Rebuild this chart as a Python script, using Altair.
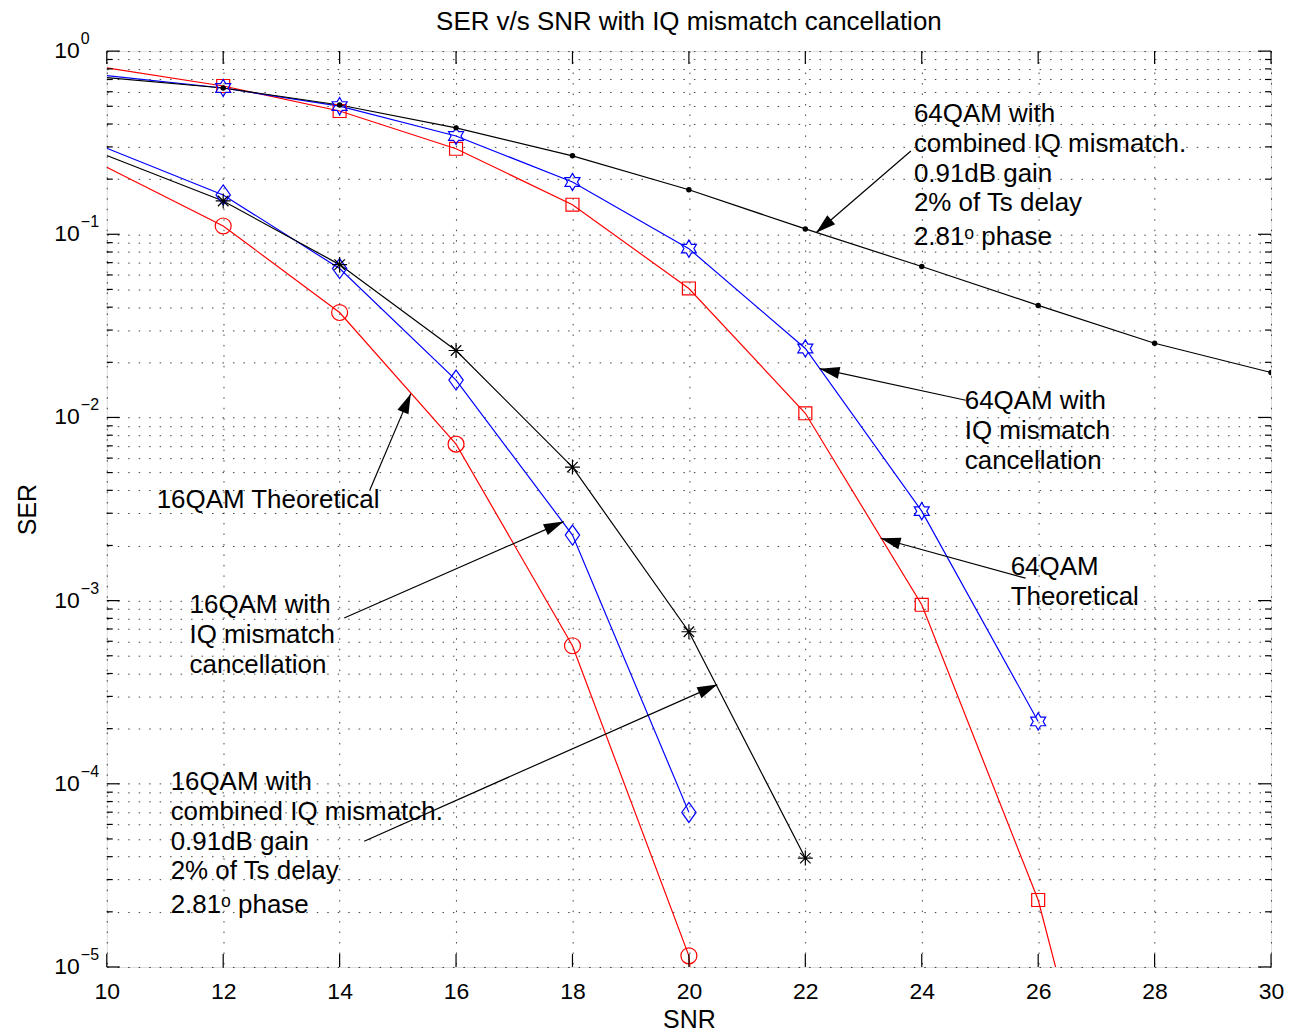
import math
import altair as alt
import pandas as pd

# ---------------- data ----------------
snr_16_theory = [10, 12, 14, 16, 18, 20, 22]
ser_16_theory = [0.232, 0.111, 0.0374, 0.00715, 5.67e-4, 1.15e-5, 2e-12]

snr_16_cancel = [10, 12, 14, 16, 18, 20]
ser_16_cancel = [0.295, 0.164, 0.065, 0.0160, 2.28e-3, 6.98e-5]

snr_16_comb = [10, 12, 14, 16, 18, 20, 22]
ser_16_comb = [0.269, 0.152, 0.0683, 0.0232, 5.36e-3, 6.76e-4, 3.93e-5]

snr_64_theory = [10, 12, 14, 16, 18, 20, 22, 24, 26, 28]
ser_64_theory = [0.810, 0.645, 0.471, 0.293, 0.145, 0.0506, 0.01054, 9.49e-4, 2.32e-5, 8.3e-8]

snr_64_cancel = [10, 12, 14, 16, 18, 20, 22, 24, 26]
ser_64_cancel = [0.734, 0.629, 0.501, 0.344, 0.193, 0.0835, 0.0238, 3.08e-3, 2.19e-4]

snr_64_comb = [10, 12, 14, 16, 18, 20, 22, 24, 26, 28, 30]
ser_64_comb = [0.716, 0.629, 0.508, 0.381, 0.268, 0.175, 0.107, 0.0667, 0.0409, 0.0254, 0.0176]

series_names = ["16QAM Theoretical", "16QAM with IQ mismatch cancellation",
                "16QAM with combined IQ mismatch", "64QAM Theoretical",
                "64QAM with IQ mismatch cancellation", "64QAM with combined IQ mismatch"]
series_x = [snr_16_theory, snr_16_cancel, snr_16_comb, snr_64_theory, snr_64_cancel, snr_64_comb]
series_y = [ser_16_theory, ser_16_cancel, ser_16_comb, ser_64_theory, ser_64_cancel, ser_64_comb]

title_text = "SER v/s SNR with IQ mismatch cancellation"
x_ticks = [10, 12, 14, 16, 18, 20, 22, 24, 26, 28, 30]
decades = [1e-5, 1e-4, 1e-3, 1e-2, 1e-1, 1]
decade_exp = ["\u22125", "\u22124", "\u22123", "\u22122", "\u22121", "0"]
minor_mult = [2, 3, 4, 5, 6, 7, 8, 9]

# annotation text lines (data coordinates of left / middle of each line)
ann_text = ["64QAM with", "combined IQ mismatch.", "0.91dB gain", "2% of Ts delay", "2.81\u1d52 phase",
            "64QAM with", "IQ mismatch", "cancellation",
            "64QAM", "Theoretical",
            "16QAM Theoretical",
            "16QAM with", "IQ mismatch", "cancellation",
            "16QAM with", "combined IQ mismatch.", "0.91dB gain", "2% of Ts delay", "2.81\u1d52 phase"]
ann_x = [23.865] * 5 + [24.739] * 3 + [25.527] * 2 + [10.857] + [11.422] * 3 + [11.097] * 5
ann_y = [0.4538, 0.3114, 0.2138, 0.1486, 0.0970,
         0.01225, 0.00841, 0.005774,
         0.001528, 0.001049,
         0.003540,
         9.486e-4, 6.512e-4, 4.471e-4,
         1.0177e-4, 6.987e-5, 4.796e-5, 3.333e-5, 2.176e-5]

# arrows: tail (at the text) -> tip (on the curve)
arrow_x_tail = [23.813, 24.756, 25.784, 14.519, 14.079, 14.422]
arrow_y_tail = [0.285, 0.01241, 1.326e-3, 4.014e-3, 8.03e-4, 4.86e-5]
arrow_x_tip = [22.185, 22.245, 23.294, 15.222, 17.849, 20.487]
arrow_y_tip = [0.102, 0.01846, 2.19e-3, 0.01349, 2.70e-3, 3.48e-4]

# ---------------- styling ----------------
W, H = 1167, 918
FONT = "Liberation Sans"
X_MIN, X_MAX = 10, 30
Y_MIN, Y_MAX = 1e-5, 1

hex_pts = []
for k in range(12):
    ang = math.radians(-90 + 30 * k)
    r = 1.0 if k % 2 == 0 else 1 / math.sqrt(3)
    hex_pts.append((r * math.cos(ang), r * math.sin(ang)))
HEXAGRAM = "M" + "L".join(f"{px:.3f},{py:.3f}" for px, py in hex_pts) + "Z"
ASTERISK = "M-1,0L1,0M0,-1L0,1M-0.7,-0.7L0.7,0.7M-0.7,0.7L0.7,-0.7"
DIAMOND = "M0,-1L0.72,0L0,1L-0.72,0Z"
ARROWHEAD = "M0,0L-0.3,1L0.3,1Z"

styles = [
    dict(color="#ff0000", shape="circle", size=256, filled=False),
    dict(color="#0000ff", shape=DIAMOND, size=400, filled=False),
    dict(color="#000000", shape=ASTERISK, size=225, filled=False),
    dict(color="#ff0000", shape="square", size=169, filled=False),
    dict(color="#0000ff", shape=HEXAGRAM, size=300, filled=False),
    dict(color="#000000", shape="circle", size=30, filled=True),
]

rows = []
for name, xs, ys in zip(series_names, series_x, series_y):
    for xv, yv in zip(xs, ys):
        rows.append({"series": name, "snr": xv, "ser": yv})
df = pd.DataFrame(rows)

xscale = alt.Scale(domain=[X_MIN, X_MAX], nice=False, zero=False)
yscale = alt.Scale(type="log", domain=[Y_MIN, Y_MAX], nice=False)

y_grid_vals = []
for d in decades[:-1]:
    y_grid_vals.append(d)
    for m in minor_mult:
        y_grid_vals.append(d * m)
y_grid_vals.append(1)

grid_common = dict(grid=True, gridDash=[1.5, 9], gridColor="#000000", gridOpacity=0.75,
                   gridWidth=1, ticks=False, domain=False)

XAXIS = alt.Axis(values=x_ticks, labelFontSize=23, labelFont=FONT, labelPadding=14,
                 labelColor="#000", labelFlush=False, title="SNR", titleFont=FONT,
                 titleFontSize=25, titleFontWeight="normal", titlePadding=4,
                 titleColor="#000", **grid_common)
YAXIS = alt.Axis(values=y_grid_vals, labels=False, title="SER", titleFont=FONT,
                 titleFontSize=25, titleFontWeight="normal", titlePadding=66,
                 titleColor="#000", **grid_common)


def X(field):
    return alt.X(field, type="quantitative", scale=xscale, axis=XAXIS)


def Y(field):
    return alt.Y(field, type="quantitative", scale=yscale, axis=YAXIS)


lines = alt.Chart(df).mark_line(strokeWidth=1.2, clip=True).encode(
    x=X("snr"), y=Y("ser"),
    color=alt.Color("series:N", scale=alt.Scale(domain=series_names,
                                                range=[s["color"] for s in styles]), legend=None),
    detail="series:N",
)

layers = [lines]

for name, st in zip(series_names, styles):
    sub = df[(df["series"] == name) & (df["snr"] > X_MIN) & (df["ser"] >= Y_MIN)]
    if st["filled"]:
        mk = alt.Chart(sub).mark_point(shape=st["shape"], size=st["size"], filled=True,
                                       color=st["color"], opacity=1, clip=True)
    else:
        mk = alt.Chart(sub).mark_point(shape=st["shape"], size=st["size"], filled=False,
                                       stroke=st["color"], strokeWidth=1.2, opacity=1, clip=True)
    layers.append(mk.encode(x=X("snr"), y=Y("ser")))

# inward ticks (box style)
xt = pd.DataFrame({"snr": x_ticks})
for y0, y1 in [(H, H - 13), (0, 13)]:
    layers.append(alt.Chart(xt).mark_rule(color="#000", strokeWidth=1.2).encode(
        x=X("snr"), y=alt.value(y0), y2=alt.value(y1)))

major_df = pd.DataFrame({"ser": decades})
minor_df = pd.DataFrame({"ser": [d * m for d in decades[:-1] for m in minor_mult]})
for tdf_, ln in [(major_df, 13), (minor_df, 6)]:
    for x0, x1 in [(0, ln), (W, W - ln)]:
        layers.append(alt.Chart(tdf_).mark_rule(color="#000", strokeWidth=1.2).encode(
            y=Y("ser"), x=alt.value(x0), x2=alt.value(x1)))

# y tick labels as 10 + superscript exponent
lab_df = pd.DataFrame({"ser": decades, "exp": decade_exp, "base": ["10"] * len(decades)})
layers.append(alt.Chart(lab_df).mark_text(align="right", baseline="middle", font=FONT,
                                           fontSize=23, color="#000").encode(
    y=Y("ser"), x=alt.value(-27), text="base:N"))
layers.append(alt.Chart(lab_df).mark_text(align="left", baseline="middle", font=FONT,
                                           fontSize=16, color="#000", dy=-12).encode(
    y=Y("ser"), x=alt.value(-26), text="exp:N"))

# annotation arrows
adf = pd.DataFrame({"snr": arrow_x_tail, "ser": arrow_y_tail, "x1": arrow_x_tip, "y1": arrow_y_tip})
px_per_x = W / (X_MAX - X_MIN)
px_per_dec = H / (math.log10(Y_MAX) - math.log10(Y_MIN))
angles = []
for a, b, c, d in zip(arrow_x_tail, arrow_y_tail, arrow_x_tip, arrow_y_tip):
    dx = (c - a) * px_per_x
    dy = -(math.log10(d) - math.log10(b)) * px_per_dec
    angles.append(math.degrees(math.atan2(dx, -dy)) % 360)

layers.append(alt.Chart(adf).mark_rule(color="#000", strokeWidth=1.2).encode(
    x=X("snr"), y=Y("ser"), x2="x1:Q", y2="y1:Q"))
head_df = pd.DataFrame({"snr": arrow_x_tip, "ser": arrow_y_tip, "ang": angles})
layers.append(alt.Chart(head_df).mark_point(shape=ARROWHEAD, size=1600, filled=True, color="#000",
                                            opacity=1).encode(
    x=X("snr"), y=Y("ser"), angle=alt.Angle("ang:Q", scale=None)))

# annotation text
tdf = pd.DataFrame({"t": ann_text, "snr": ann_x, "ser": ann_y})
layers.append(alt.Chart(tdf).mark_text(align="left", baseline="middle", font=FONT,
                                        fontSize=26, color="#000").encode(
    x=X("snr"), y=Y("ser"), text="t:N"))

# title as text above the plot
title_df = pd.DataFrame({"t": [title_text]})
layers.append(alt.Chart(title_df).mark_text(align="center", baseline="middle", font=FONT,
                                             fontSize=26, color="#000").encode(
    x=alt.value(W / 2), y=alt.value(-29), text="t:N"))

chart = alt.layer(*layers).properties(
    width=W, height=H,
    autosize=alt.AutoSizeParams(type="none"),
    padding={"left": 99, "top": 42, "right": 14, "bottom": 70},
).configure_view(stroke="#000", strokeWidth=1.5).configure(background="white")

chart.save("out.html", embed_options={"renderer": "svg", "actions": False})
